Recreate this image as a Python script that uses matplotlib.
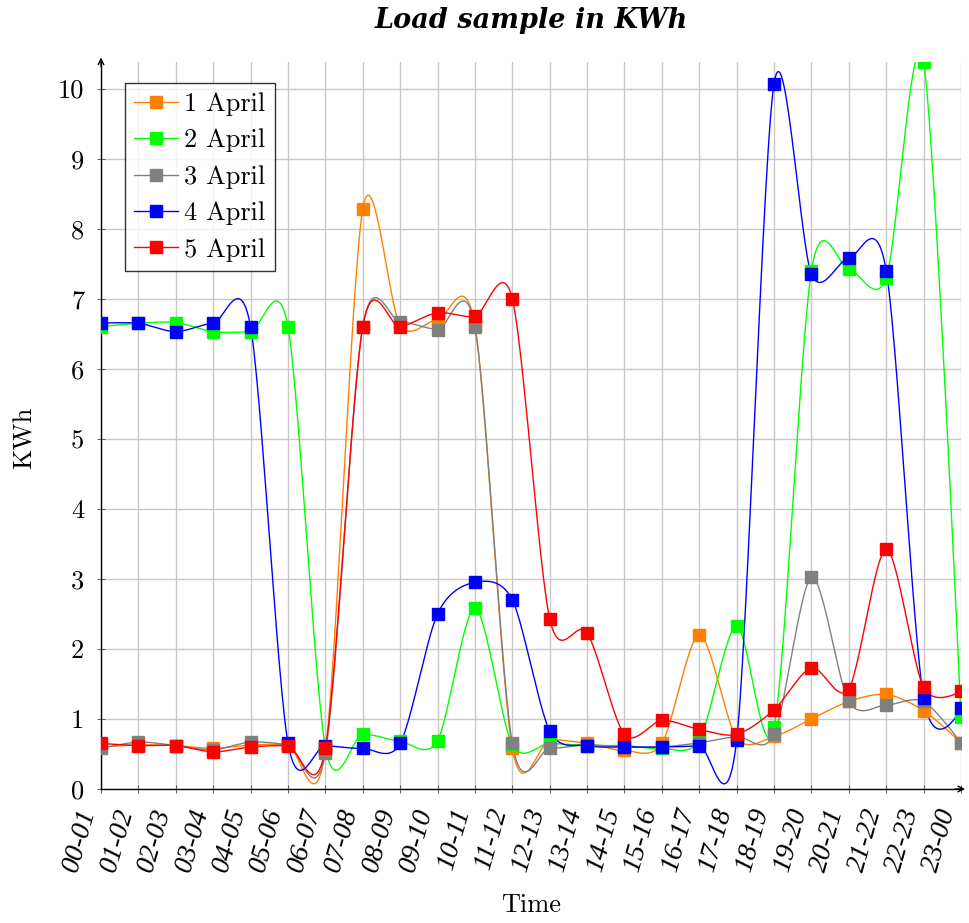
import numpy as np
import matplotlib.pyplot as plt

hours = ['00-01', '01-02', '02-03', '03-04', '04-05', '05-06', '06-07', '07-08',
         '08-09', '09-10', '10-11', '11-12', '12-13', '13-14', '14-15', '15-16',
         '16-17', '17-18', '18-19', '19-20', '20-21', '21-22', '22-23', '23-00']

april_1 = [0.60, 0.63, 0.62, 0.58, 0.63, 0.63, 0.55, 8.28, 6.62, 6.70, 6.62, 0.58,
           0.70, 0.65, 0.55, 0.65, 2.20, 0.73, 0.75, 1.00, 1.25, 1.35, 1.12, 0.66]
april_2 = [6.60, 6.65, 6.66, 6.53, 6.53, 6.60, 0.60, 0.78, 0.68, 0.69, 2.58, 0.63,
           0.65, 0.62, 0.62, 0.58, 0.70, 2.33, 0.88, 7.40, 7.42, 7.30, 10.38, 1.03]
april_3 = [0.58, 0.67, 0.62, 0.56, 0.67, 0.63, 0.52, 6.60, 6.67, 6.56, 6.60, 0.65,
           0.58, 0.63, 0.60, 0.60, 0.66, 0.75, 0.78, 3.02, 1.25, 1.20, 1.25, 0.66]
april_4 = [6.65, 6.65, 6.53, 6.65, 6.60, 0.66, 0.62, 0.58, 0.65, 2.50, 2.95, 2.70,
           0.83, 0.62, 0.60, 0.60, 0.62, 0.70, 10.07, 7.35, 7.58, 7.40, 1.30, 1.15]
april_5 = [0.65, 0.62, 0.62, 0.53, 0.60, 0.62, 0.58, 6.60, 6.60, 6.80, 6.75, 7.00,
           2.43, 2.23, 0.78, 0.98, 0.85, 0.78, 1.13, 1.73, 1.43, 3.42, 1.45, 1.40]

series = [('1 April', april_1, '#FF8000'),
          ('2 April', april_2, '#00FF00'),
          ('3 April', april_3, '#808080'),
          ('4 April', april_4, '#0000FF'),
          ('5 April', april_5, '#FF0000')]


def smooth(x, y, k=0.145, n=30):
    # bezier curve through the points, like tikz "smooth"
    p = np.column_stack([x, y]).astype(float)
    tang = np.zeros_like(p)
    tang[1:-1] = p[2:] - p[:-2]
    t = np.linspace(0, 1, n)[:, None]
    out = []
    for i in range(len(p) - 1):
        a = p[i]
        b = p[i] + k * tang[i]
        c = p[i + 1] - k * tang[i + 1]
        d = p[i + 1]
        seg = (1 - t)**3 * a + 3 * (1 - t)**2 * t * b + 3 * (1 - t) * t**2 * c + t**3 * d
        out.append(seg if i == 0 else seg[1:])
    out = np.vstack(out)
    return out[:, 0], out[:, 1]


roman = ['cmr10', 'DejaVu Serif']
italic = ['Liberation Serif', 'DejaVu Serif']
fig = plt.figure(figsize=(9.69, 9.23), dpi=100)
ax = fig.add_axes([101 / 969, 1 - 789 / 923, 860 / 969, 727 / 923])

xs = np.arange(len(hours))
for name, vals, col in series:
    sx, sy = smooth(xs, vals)
    ax.plot(sx, sy, color=col, lw=1.0, zorder=3)
    ax.plot(xs, vals, ls='none', marker='s', ms=8.5, color=col, zorder=4)
    ax.plot([], [], color=col, lw=1.0, marker='s', ms=8.5, label=name)

ax.set_xlim(0, 23)
ax.set_ylim(0, 10.38)
ax.set_xticks(xs)
ax.set_xticklabels(hours, rotation=74, ha='right', va='bottom',
                   rotation_mode='anchor', fontstyle='italic', fontsize=20, family=italic)
ax.set_yticks(range(0, 11))
ax.set_yticklabels([str(v) for v in range(0, 11)], fontsize=19, family=roman)
ax.tick_params(direction='inout', length=6, width=0.6, color='#444444')
ax.tick_params(axis='y', pad=9)
ax.tick_params(axis='x', pad=14)
ax.grid(True, color='#c8c8c8', lw=1.0)
ax.set_axisbelow(True)
for s in ['top', 'right']:
    ax.spines[s].set_visible(False)
ax.spines['left'].set_linewidth(1.0)
ax.spines['bottom'].set_linewidth(1.0)

# axis arrows
ax.annotate('', xy=(0, 1.01), xytext=(0, 0.99), xycoords='axes fraction',
            arrowprops=dict(arrowstyle='->', lw=1.0, color='black'), annotation_clip=False)
ax.annotate('', xy=(1.008, 0), xytext=(0.99, 0), xycoords='axes fraction',
            arrowprops=dict(arrowstyle='->', lw=1.0, color='black'), annotation_clip=False)

fig.text(531 / 969, 1 - 20 / 923, 'Load sample in KWh', ha='center', va='center',
         fontsize=19.5, fontweight='bold', fontstyle='italic', family=['DejaVu Serif'])
fig.text(531 / 969, 1 - 905 / 923, 'Time', ha='center', va='center', fontsize=19, family=roman)
fig.text(25 / 969, 1 - 438 / 923, 'KWh', ha='center', va='center', rotation=90,
         fontsize=19, family=roman)

leg = ax.legend(loc='upper left', bbox_to_anchor=(0.0279, 0.971), borderaxespad=0,
                prop={'family': roman, 'size': 19}, frameon=True, fancybox=False,
                edgecolor='black', handlelength=1.65, borderpad=0.35, labelspacing=0.48,
                handletextpad=0.25)
leg.get_frame().set_linewidth(1.0)

fig.savefig('out.png', dpi=100)
